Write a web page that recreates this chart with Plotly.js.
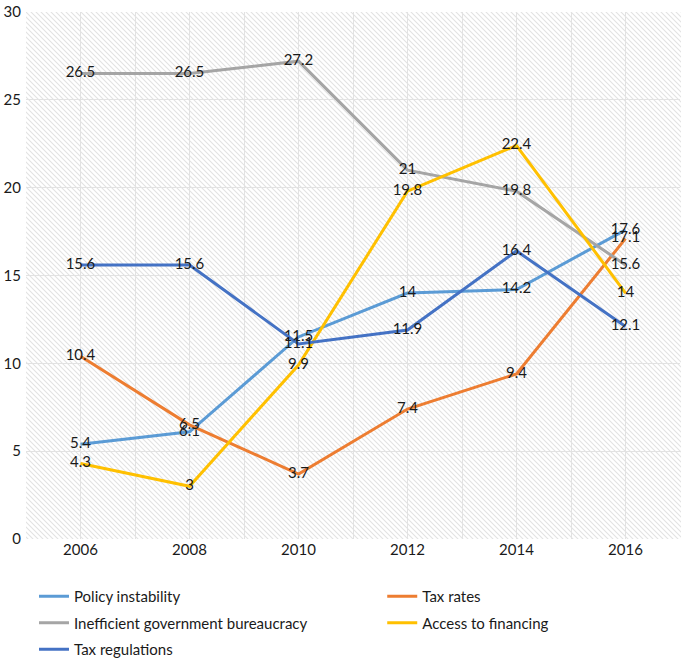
<!DOCTYPE html>
<html>
<head>
<meta charset="utf-8">
<script src="https://cdn.plot.ly/plotly-3.0.1.min.js"></script>
<style>
html,body{margin:0;padding:0;background:#fff;}
#wrap{position:relative;width:685px;height:662px;}
#hatch{position:absolute;left:25.5px;top:12px;width:655px;height:527px;background-color:#ffffff;
  background-image:url("data:image/svg+xml;utf8,<svg xmlns='http://www.w3.org/2000/svg' width='5' height='5'><path d='M0,0 L5,5 M-1,4 L1,6 M4,-1 L6,1' stroke='%23e2e2e2' stroke-width='1.1'/></svg>");
  background-size:5px 5px;}
#chart{position:absolute;left:0;top:0;width:685px;height:662px;}
</style>
</head>
<body>
<div id="wrap">
<div id="hatch"></div>
<div id="chart"></div>
</div>
<script>
var years = [2006, 2008, 2010, 2012, 2014, 2016];
var tickLabels = ["2006", "2008", "2010", "2012", "2014", "2016"];
var seriesNames = ["Policy instability", "Tax rates", "Inefficient government bureaucracy", "Access to financing", "Tax regulations"];
var policyInstability = [5.4, 6.1, 11.5, 14, 14.2, 17.6];
var taxRates = [10.4, 6.5, 3.7, 7.4, 9.4, 17.1];
var bureaucracy = [26.5, 26.5, 27.2, 21, 19.8, 15.6];
var accessFinancing = [4.3, 3, 9.9, 19.8, 22.4, 14];
var taxRegulations = [15.6, 15.6, 11.1, 11.9, 16.4, 12.1];

var colors = ["#5B9BD5", "#ED7D31", "#A5A5A5", "#FFC000", "#4472C4"];
var legendOf = ["legend", "legend2", "legend", "legend2", "legend"];
var allValues = [policyInstability, taxRates, bureaucracy, accessFinancing, taxRegulations];

var traces = allValues.map(function (vals, i) {
  return {
    x: years,
    y: vals,
    name: seriesNames[i],
    legend: legendOf[i],
    legendgroup: "g" + i,
    type: "scatter",
    mode: "lines+text",
    line: {color: colors[i], width: 3},
    text: vals.map(String),
    textposition: "middle center",
    textfont: {family: "Lato, 'Open Sans', sans-serif", size: 15, color: "#1a1a1a"},
    cliponaxis: false
  };
});

var legendCommon = {
  orientation: "v",
  y: -0.0778,
  yanchor: "top",
  xanchor: "left",
  font: {size: 15, color: "#1a1a1a"},
  tracegroupgap: 4,
  bgcolor: "rgba(0,0,0,0)"
};

var layout = {
  width: 685,
  height: 662,
  margin: {l: 25.5, r: 4.5, t: 12, b: 123, autoexpand: false},
  paper_bgcolor: "rgba(0,0,0,0)",
  plot_bgcolor: "rgba(0,0,0,0)",
  font: {family: "Lato, 'Open Sans', sans-serif", size: 15, color: "#404040"},
  showlegend: true,
  xaxis: {
    type: "linear",
    range: [2005, 2017],
    tickvals: years,
    ticktext: tickLabels,
    showgrid: true,
    gridcolor: "#e2e2e2",
    gridwidth: 1,
    minor: {dtick: 1, tick0: 2005, showgrid: true, gridcolor: "#e2e2e2", gridwidth: 1, ticks: ""},
    zeroline: false,
    showline: false,
    ticks: "",
    tickfont: {size: 15, color: "#1a1a1a"}
  },
  yaxis: {
    range: [0, 30],
    dtick: 5,
    showgrid: true,
    gridcolor: "#e2e2e2",
    gridwidth: 1,
    zeroline: false,
    showline: false,
    ticks: "",
    ticklabelstandoff: 4,
    tickfont: {size: 15, color: "#1a1a1a"}
  },
  legend: Object.assign({}, legendCommon, {x: 0.0122}),
  legend2: Object.assign({}, legendCommon, {x: 0.5447})
};

Plotly.newPlot("chart", traces, layout, {displayModeBar: false, staticPlot: true});
</script>
</body>
</html>
